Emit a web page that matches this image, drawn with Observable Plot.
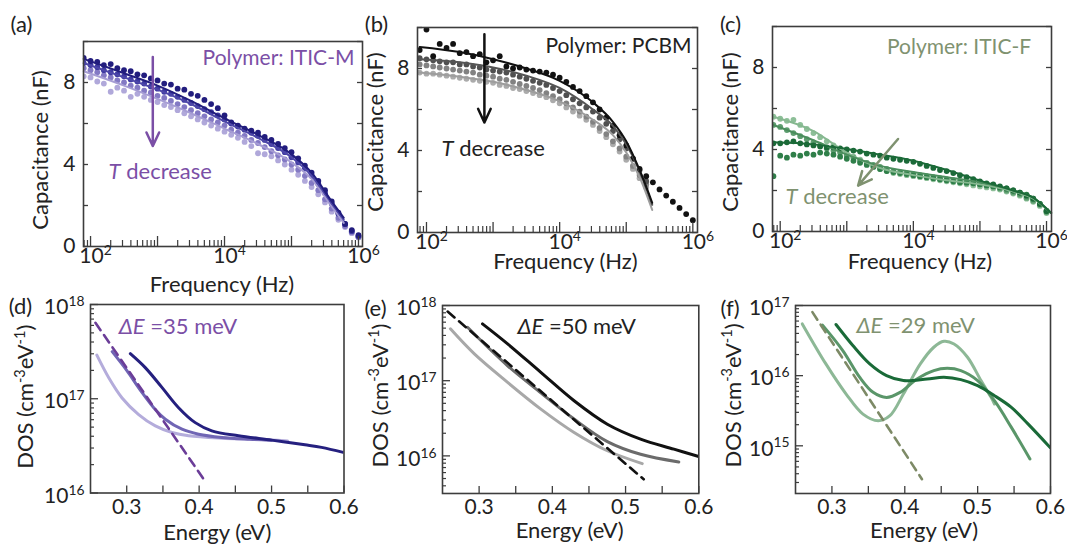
<!DOCTYPE html>
<html><head><meta charset="utf-8">
<script src="https://cdn.jsdelivr.net/npm/d3@7"></script>
<script src="https://cdn.jsdelivr.net/npm/@observablehq/plot@0.6"></script>
<style>
html,body{margin:0;padding:0;background:#fff;}
#fig{position:relative;width:1067px;height:547px;overflow:hidden;background:#fff;}
#fig svg{position:absolute;}
</style></head><body><div id="fig"></div>
<script>
// ---------------- data ----------------
const freq = [79, 100, 126, 158, 200, 251, 316, 398, 501, 631, 794, 1000, 1259, 1585, 1995, 2512, 3162, 3981, 5012, 6310, 7943, 10000, 12589, 15849, 19953, 25119, 31623, 39811, 50119, 63096, 79433, 100000, 125893, 158489, 199526, 251189, 316228, 398107, 501187, 630957, 794328, 1000000];

// (a) Polymer:ITIC-M capacitance (nF)
const aS1 = [9.2, 9.05, 9.0, 8.85, 8.9, 8.7, 8.6, 8.55, 8.4, 8.35, 8.2, 8.1, 7.95, 7.9, 7.7, 7.65, 7.45, 7.35, 7.15, 6.95, 6.75, 6.4, 6.05, 5.9, 5.75, 5.65, 5.55, 5.35, 5.2, 5.0, 4.8, 4.6, 4.3, 3.95, 3.6, 3.2, 2.75, 2.2, 1.65, 1.1, 0.8, 0.55];
const aS2 = [8.95, 8.85, 8.75, 8.6, 8.5, 8.4, 8.3, 8.15, 8.05, 7.95, 7.8, 7.7, 7.55, 7.45, 7.3, 7.15, 7.0, 6.85, 6.7, 6.55, 6.4, 6.2, 6.0, 5.85, 5.7, 5.55, 5.4, 5.2, 5.0, 4.8, 4.6, 4.35, 4.1, 3.8, 3.45, 3.05, 2.6, 2.1, 1.6, 1.1, 0.75, 0.5];
const aS3 = [8.7, 8.6, 8.5, 8.35, 8.25, 8.1, 8.0, 7.85, 7.75, 7.6, 7.5, 7.35, 7.25, 7.1, 6.95, 6.8, 6.65, 6.5, 6.35, 6.2, 6.05, 5.9, 5.7, 5.55, 5.4, 5.2, 5.05, 4.85, 4.65, 4.45, 4.25, 4.0, 3.75, 3.45, 3.1, 2.75, 2.3, 1.85, 1.4, 1.0, 0.7, 0.45];
const aS4 = [8.3, 8.25, 8.05, 7.95, 7.55, 7.75, 7.6, 7.3, 7.45, 7.3, 7.15, 7.05, 6.9, 6.8, 6.65, 6.5, 6.35, 6.2, 6.05, 5.9, 5.75, 5.6, 5.45, 5.3, 5.1, 4.9, 4.55, 4.5, 4.4, 4.2, 4.0, 3.75, 3.5, 3.2, 2.9, 2.55, 2.15, 1.7, 1.3, 0.95, 0.65, 0.45];
const aFitF = [79, 316, 1000, 3162, 10000, 31623, 100000, 199526, 398107, 602560];
const aFitDark = [9.15, 8.45, 7.85, 7.1, 6.25, 5.45, 4.5, 3.6, 2.2, 1.4];
const aFitMid = [8.95, 8.25, 7.65, 6.95, 6.1, 5.3, 4.35, 3.45, 2.1, 1.3];
const aFitLight = [8.55, 7.85, 7.2, 6.5, 5.75, 5.0, 4.1, 3.3, 1.95, 1.15];

// (b) Polymer:PCBM
const bS1 = [8.9, 9.9, 8.6, 9.2, 9.0, 9.2, 8.75, 8.8, 8.6, 8.7, 8.3, 8.4, 8.6, 8.1, 8.0, 8.05, 7.95, 7.9, 7.85, 7.8, 7.7, 7.55, 7.35, 7.1, 6.9, 6.65, 6.35, 6.0, 5.6, 5.2, 4.75, 4.25, 3.6, 3.1, 2.75, 2.45, 2.1, 1.8, 1.5, 1.2, 0.9, 0.6];
const bS2 = [8.5, 8.45, 8.4, 8.35, 8.3, 8.3, 8.2, 8.2, 8.1, 8.05, 7.95, 7.9, 7.85, 7.8, 7.7, 7.6, 7.5, 7.4, 7.3, 7.2, 7.05, 6.9, 6.7, 6.5, 6.3, 6.1, 5.9, 5.6, 5.3, 4.95, 4.55, 4.1, 3.6, 3.05, 2.5];
const bS3 = [8.2, 8.15, 8.1, 8.05, 8.0, 7.95, 7.9, 7.85, 7.8, 7.7, 7.65, 7.6, 7.5, 7.45, 7.35, 7.25, 7.15, 7.05, 6.95, 6.8, 6.65, 6.5, 6.3, 6.1, 5.9, 5.65, 5.4, 5.1, 4.8, 4.45, 4.1, 3.7, 3.25, 2.8, 2.35];
const bS4 = [7.8, 7.75, 7.75, 7.7, 7.65, 7.6, 7.55, 7.5, 7.45, 7.4, 7.35, 7.3, 7.2, 7.15, 7.05, 7.0, 6.9, 6.8, 6.7, 6.6, 6.45, 6.3, 6.1, 5.9, 5.7, 5.5, 5.25, 4.95, 4.65, 4.3, 3.95, 3.55, 3.1, 2.65, 2.2];
const bFitF = [79, 316, 1000, 3162, 10000, 31623, 63096, 100000, 158489, 245471];
const bFitDark = [9.05, 8.8, 8.45, 8.0, 7.4, 6.35, 5.4, 4.45, 3.05, 1.45];
const bFitMid = [8.45, 8.3, 8.05, 7.65, 7.05, 6.0, 5.2, 4.3, 3.0, 1.35];
const bFitLight = [7.8, 7.6, 7.35, 6.95, 6.4, 5.5, 4.75, 3.9, 2.7, 1.1];

// (c) Polymer:ITIC-F
const cS1 = [4.3, 4.3, 4.35, 4.4, 4.3, 4.25, 4.2, 4.15, 4.1, 4.1, 4.05, 4.0, 3.95, 3.9, 3.8, 3.75, 3.7, 3.6, 3.55, 3.5, 3.45, 3.4, 3.3, 3.2, 3.1, 3.0, 2.95, 2.85, 2.75, 2.65, 2.55, 2.45, 2.35, 2.3, 2.2, 2.1, 2.0, 1.9, 1.75, 1.6, 1.35, 1.0];
const cS2 = [2.7, 3.7, 3.6, 3.75, 3.7, 3.8, 3.75, 3.85, 3.8, 3.75, 3.65, 3.55, 3.45, 3.35, 3.25, 3.15, 3.05, 2.95, 2.9, 2.85, 2.8, 2.75, 2.7, 2.65, 2.6, 2.55, 2.5, 2.45, 2.4, 2.38, 2.35, 2.3, 2.25, 2.2, 2.15, 2.1, 2.0, 1.9, 1.8, 1.6, 1.35, 1.0];
const cS3 = [5.2, 5.1, 4.95, 4.8, 4.65, 4.5, 4.35, 4.2, 4.05, 3.95, 3.85, 3.7, 3.6, 3.45, 3.35, 3.25, 3.15, 3.05, 2.95, 2.9, 2.85, 2.8, 2.75, 2.7, 2.65, 2.6, 2.55, 2.5, 2.45, 2.4, 2.35, 2.3, 2.25, 2.2, 2.1, 2.0, 1.9, 1.8, 1.65, 1.5, 1.3, 0.95];
const cS4 = [5.6, 5.5, 5.4, 5.45, 5.2, 5.0, 4.8, 4.6, 4.4, 4.2, 4.0, 3.8, 3.65, 3.5, 3.35, 3.2, 3.05, 2.95, 2.85, 2.8, 2.75, 2.7, 2.65, 2.6, 2.55, 2.5, 2.45, 2.4, 2.35, 2.3, 2.25, 2.2, 2.15, 2.1, 2.05, 1.95, 1.85, 1.75, 1.6, 1.45, 1.25, 0.9];
const cFitF = [79, 316, 1000, 3162, 10000, 31623, 100000, 316228, 630957, 1174898];
const cFitDark = [4.35, 4.25, 4.02, 3.75, 3.45, 3.0, 2.48, 2.0, 1.65, 0.9];
const cFitMid = [5.2, 4.45, 3.75, 3.2, 2.9, 2.65, 2.4, 2.0, 1.65, 0.9];
const cFitLight = [5.6, 4.9, 3.85, 3.1, 2.75, 2.5, 2.3, 1.95, 1.6, 0.9];

// (d) DOS, ITIC-M (energy eV, DOS cm^-3 eV^-1)
const dE1 = [0.305, 0.3256, 0.3486, 0.3716, 0.3946, 0.4175, 0.4543, 0.5002, 0.5461, 0.569, 0.5989];
const dD1 = [3.01e17, 2.14e17, 1.32e17, 8.04e16, 5.58e16, 4.57e16, 4.05e16, 3.64e16, 3.25e16, 3.05e16, 2.7e16];
const dE2 = [0.28, 0.30, 0.32, 0.34, 0.3533, 0.3763, 0.3993, 0.4314, 0.47, 0.50];
const dD2 = [3.16e17, 2.0e17, 1.2e17, 7.6e16, 6.07e16, 4.75e16, 4.21e16, 3.89e16, 3.72e16, 3.63e16];
const dE3 = [0.2588, 0.2752, 0.2936, 0.3165, 0.3395, 0.3625, 0.3855, 0.4314, 0.4773, 0.5223];
const dD3 = [2.9e17, 1.67e17, 1.02e17, 6.8e16, 5.15e16, 4.39e16, 4.05e16, 3.82e16, 3.72e16, 3.57e16];
const dEfit = [0.2568, 0.4061];
const dDfit = [6.4e17, 1.41e16];

// (e) DOS, PCBM
const eE1 = [0.3046, 0.3389, 0.3843, 0.4297, 0.4751, 0.5205, 0.566, 0.6];
const eD1 = [5.7e17, 3.09e17, 1.29e17, 5.41e16, 2.64e16, 1.67e16, 1.23e16, 9.8e15];
const eE2 = [0.2842, 0.3389, 0.3843, 0.4297, 0.4751, 0.5205, 0.5727];
const eD2 = [5.13e17, 1.58e17, 6.9e16, 3.09e16, 1.55e16, 1.05e16, 8.3e15];
const eE3 = [0.2608, 0.2935, 0.3389, 0.3843, 0.4297, 0.4751, 0.5228];
const eD3 = [4.89e17, 2.27e17, 9.5e16, 4.19e16, 2.05e16, 1.17e16, 7.9e15];
const eEfit = [0.257, 0.5248];
const eDfit = [8.3e17, 4.89e15];

// (f) DOS, ITIC-F
const fE1 = [0.3056, 0.3287, 0.3519, 0.375, 0.3981, 0.4306, 0.4537, 0.4769, 0.5, 0.5231, 0.5463, 0.5694, 0.5995];
const fD1 = [5.36e16, 2.69e16, 1.47e16, 1.0e16, 8.5e15, 8.95e15, 9.46e15, 8.77e15, 7.19e15, 5.18e15, 3.53e15, 2.04e15, 9.46e14];
const fE2 = [0.2871, 0.3149, 0.338, 0.3565, 0.375, 0.3935, 0.4167, 0.4398, 0.4583, 0.4769, 0.5, 0.5231, 0.5463, 0.5718];
const fD2 = [5.25e16, 2.28e16, 9.5e15, 5.78e15, 4.9e15, 5.78e15, 8.95e15, 1.18e16, 1.27e16, 1.18e16, 8.5e15, 4.4e15, 1.83e15, 6.5e14];
const fE3 = [0.2593, 0.2917, 0.3195, 0.3426, 0.3634, 0.3796, 0.3981, 0.4213, 0.4398, 0.4537, 0.4676, 0.4861, 0.5046, 0.5185, 0.5231];
const fD3 = [5.47e16, 1.47e16, 5.47e15, 2.83e15, 2.28e15, 2.69e15, 5.47e15, 1.47e16, 2.54e16, 3.09e16, 2.83e16, 1.83e16, 8.5e15, 4.9e15, 3.94e15];
const fEfit = [0.2732, 0.4236];
const fDfit = [8.04e16, 3.34e14];

// ticks & labels
const freqTickLabels = [1e2, 1e4, 1e6];
const capTicks = [0, 2, 4, 6, 8, 10];
const capTickLabels = [0, 4, 8];
const energyTicks = [0.3, 0.35, 0.4, 0.45, 0.5, 0.55, 0.6];
const energyTickLabels = [0.3, 0.4, 0.5, 0.6];
const dosLabelsD = [1e16, 1e17, 1e18];
const dosLabelsE = [1e16, 1e17, 1e18];
const dosLabelsF = [1e15, 1e16, 1e17];

// annotations (data coordinates)
const arrowA = [{f1: 850, c1: 9.25, f2: 850, c2: 4.9}];
const arrowB = [{f1: 741, c1: 9.67, f2: 741, c2: 5.37}];
const arrowC = [{f1: 5888, c1: 4.51, f2: 1479, c2: 2.24}];

// ---------------- drawing ----------------
const FR = "#3d3d3d", TXT = "#222", PURPLE = "#7b4fa6", OLIVE = "#7f9270";
const FONT = "Lato, 'Open Sans', sans-serif";
const ML = 100, MR = 20, MT = 50, MB = 62;
const isDecade = v => Math.abs(Math.log10(v) - Math.round(Math.log10(v))) < 1e-6;
const C = {textAnchor: "middle", lineAnchor: "middle"};

function rich(svg) {
  d3.select(svg).selectAll("text").each(function () {
    const el = this;
    if (el.querySelector("tspan")) return;
    const s = el.textContent;
    if (!/[\^*]/.test(s)) return;
    el.textContent = "";
    let shifted = false;
    const re = /\^\{([^}]*)\}|\*([^*]*)\*|([^\^*]+)/g;
    let m;
    while ((m = re.exec(s))) {
      const t = document.createElementNS("http://www.w3.org/2000/svg", "tspan");
      if (m[1] !== undefined) {
        t.textContent = m[1];
        t.setAttribute("font-size", "0.66em");
        t.setAttribute("dy", "-0.58em");
        shifted = true;
      } else {
        t.textContent = m[2] !== undefined ? m[2] : m[3];
        if (m[2] !== undefined) t.setAttribute("font-style", "italic");
        if (shifted) { t.setAttribute("dy", "0.383em"); shifted = false; }
      }
      el.appendChild(t);
    }
  });
}

function place(box, scales, marksFn) {
  const w = box.r - box.l, h = box.b - box.t;
  const svg = Plot.plot({
    width: w + ML + MR, height: h + MT + MB,
    marginLeft: ML, marginRight: MR, marginTop: MT, marginBottom: MB,
    x: {...scales.x, axis: null}, y: {...scales.y, axis: null},
    style: {fontFamily: FONT, fontSize: "21px", background: "transparent", overflow: "visible", maxWidth: "none"},
    marks: marksFn(w, h)
  });
  svg.style.left = (box.l - ML) + "px";
  svg.style.top = (box.t - MT) + "px";
  rich(svg);
  document.getElementById("fig").appendChild(svg);
}

function capPanel(box, xDomain, dots, fits, extra, t) {
  place(box, {x: {type: "log", domain: xDomain}, y: {domain: [0, 10]}}, (w, h) => {
    const all = d3.scaleLog().domain(xDomain).ticks();
    const major = all.filter(isDecade), minor = all.filter(v => !isDecade(v));
    return [
      ...dots.map(s => Plot.dot(s.v, {x: (d, i) => freq[i], y: d => d, r: 2.9, fill: s.c, clip: true})),
      ...fits.map(s => Plot.line(s.v, {x: (d, i) => s.f[i], y: d => d, stroke: s.c, strokeWidth: 2, curve: "monotone-x"})),
      ...extra,
      Plot.tickX(minor, {x: d => d, insetTop: h - 6, stroke: FR, strokeWidth: 1.2}),
      Plot.tickX(major, {x: d => d, insetTop: h - 10, stroke: FR, strokeWidth: 1.3}),
      Plot.tickY(capTicks, {y: d => d, insetRight: w - 5, stroke: FR, strokeWidth: 1.3}),
      Plot.tickY(capTicks, {y: d => d, insetLeft: w - 5, stroke: FR, strokeWidth: 1.3}),
      Plot.frame({stroke: FR, strokeWidth: 1.6}),
      Plot.text(freqTickLabels, {...C, x: d => d, frameAnchor: "bottom", dy: 10, dx: 5, text: d => "10^{" + Math.round(Math.log10(d)) + "}", fontSize: 21, fill: TXT}),
      Plot.text(capTickLabels, {y: d => d, frameAnchor: "left", dx: -8, textAnchor: "end", lineAnchor: "middle", fontSize: 21, fill: TXT}),
      Plot.text(["Capacitance (nF)"], {...C, frameAnchor: "left", rotate: -90, dx: t.ydx, dy: t.ydy, fontSize: 22, fill: TXT}),
      Plot.text(["Frequency (Hz)"], {...C, frameAnchor: "bottom", dx: t.xdx, dy: t.xdy, fontSize: 22, fill: TXT}),
      Plot.text([t.label], {...C, frameAnchor: "top-left", dx: t.ldx, dy: t.ldy, fontSize: 22, fill: TXT})
    ];
  });
}

function dosPanel(box, yDomain, yLabels, curves, fit, extra, t) {
  place(box, {x: {domain: [0.25, 0.6]}, y: {type: "log", domain: yDomain}}, (w, h) => {
    const all = d3.scaleLog().domain(yDomain).ticks();
    const major = all.filter(isDecade), minor = all.filter(v => !isDecade(v));
    return [
      ...curves.map(s => Plot.line(s.d, {x: (d, i) => s.e[i], y: d => d, stroke: s.c, strokeWidth: 3, curve: "catmull-rom", clip: true})),
      Plot.line(fit.d, {x: (d, i) => fit.e[i], y: d => d, stroke: fit.c, strokeWidth: 2.6, strokeDasharray: "9,6"}),
      ...extra,
      Plot.tickY(minor, {y: d => d, insetRight: w - 4, stroke: FR, strokeWidth: 1.2}),
      Plot.tickY(major, {y: d => d, insetRight: w - 8, stroke: FR, strokeWidth: 1.3}),
      Plot.tickX(energyTicks, {x: d => d, insetTop: h - 7, stroke: FR, strokeWidth: 1.3}),
      Plot.frame({stroke: FR, strokeWidth: 1.6}),
      Plot.text(energyTickLabels, {...C, x: d => d, frameAnchor: "bottom", dy: 14, text: d => d3.format(".1f")(d), fontSize: 21, fill: TXT}),
      Plot.text(yLabels, {y: d => d, frameAnchor: "left", dx: -6, dy: 3, textAnchor: "end", lineAnchor: "middle", text: d => "10^{" + Math.round(Math.log10(d)) + "}", fontSize: 21, fill: TXT}),
      Plot.text(["DOS (cm^{-3}eV^{-1})"], {...C, frameAnchor: "left", rotate: -90, dx: t.ydx, dy: t.ydy, fontSize: 22, fill: TXT}),
      Plot.text(["Energy (eV)"], {...C, frameAnchor: "bottom", dx: t.xdx, dy: t.xdy, fontSize: 22, fill: TXT}),
      Plot.text([t.label], {...C, frameAnchor: "top-left", dx: t.ldx, dy: t.ldy, fontSize: 22, fill: TXT})
    ];
  });
}

// (a)
capPanel({l: 83, t: 41, r: 362, b: 246}, [78.5, 1148000],
  [{v: aS4, c: "#b0a8da"}, {v: aS3, c: "#8379c4"}, {v: aS2, c: "#3f3aa2"}, {v: aS1, c: "#221d7e"}],
  [{v: aFitLight, f: aFitF, c: "#a69dd4"}, {v: aFitMid, f: aFitF, c: "#4d47a8"}, {v: aFitDark, f: aFitF, c: "#221d7e"}],
  [
    Plot.arrow(arrowA, {x1: "f1", y1: "c1", x2: "f2", y2: "c2", stroke: PURPLE, strokeWidth: 2.5, headLength: 9, headAngle: 50}),
    Plot.text(["Polymer: ITIC-M"], {x: 871000, y: 9.17, textAnchor: "end", fontSize: 21, fill: PURPLE}),
    Plot.text(["*T* decrease"], {x: 186, y: 3.65, textAnchor: "start", fontSize: 22, fill: PURPLE})
  ],
  {ydx: -43, ydy: 6, xdx: -1, xdy: 38, label: "(a)", ldx: -62, ldy: -17});

// (b)
capPanel({l: 417, t: 27, r: 697, b: 232}, [73.3, 1175000],
  [{v: bS4, c: "#ababab"}, {v: bS3, c: "#828282"}, {v: bS2, c: "#505050"}, {v: bS1, c: "#121212"}],
  [{v: bFitLight, f: bFitF, c: "#9d9d9d"}, {v: bFitMid, f: bFitF, c: "#555555"}, {v: bFitDark, f: bFitF, c: "#111111"}],
  [
    Plot.arrow(arrowB, {x1: "f1", y1: "c1", x2: "f2", y2: "c2", stroke: "#111", strokeWidth: 2.5, headLength: 9, headAngle: 50}),
    Plot.text(["Polymer: PCBM"], {x: 955000, y: 9.1, textAnchor: "end", fontSize: 21, fill: TXT}),
    Plot.text(["*T* decrease"], {x: 168, y: 4.07, textAnchor: "start", fontSize: 22, fill: TXT})
  ],
  {ydx: -42, ydy: 2, xdx: 8, xdy: 29, label: "(b)", ldx: -41, ldy: -3});

// (c)
capPanel({l: 772, t: 26, r: 1051, b: 231}, [76.6, 1188000],
  [{v: cS4, c: "#8dbf98"}, {v: cS3, c: "#5f9e70"}, {v: cS2, c: "#2f7f49"}, {v: cS1, c: "#1b6a38"}],
  [{v: cFitLight, f: cFitF, c: "#86b890"}, {v: cFitMid, f: cFitF, c: "#4b8e5d"}, {v: cFitDark, f: cFitF, c: "#1b6a38"}],
  [
    Plot.arrow(arrowC, {x1: "f1", y1: "c1", x2: "f2", y2: "c2", stroke: OLIVE, strokeWidth: 2.5, headLength: 9, headAngle: 50}),
    Plot.text(["Polymer: ITIC-F"], {x: 589000, y: 8.97, textAnchor: "end", fontSize: 21, fill: OLIVE}),
    Plot.text(["*T* decrease"], {x: 120, y: 1.67, textAnchor: "start", fontSize: 22, fill: OLIVE})
  ],
  {ydx: -42, ydy: 3, xdx: 8, xdy: 30, label: "(c)", ldx: -42, ldy: -2});

// (d)
dosPanel({l: 89.5, t: 304, r: 343, b: 492.5}, [1e16, 1e18], dosLabelsD,
  [{e: dE3, d: dD3, c: "#b4acdb"}, {e: dE2, d: dD2, c: "#7065b4"}, {e: dE1, d: dD1, c: "#25207f"}],
  {e: dEfit, d: dDfit, c: "#6b3d98"},
  [Plot.text(["*ΔE* =35 meV"], {x: 0.289, y: 5.75e17, textAnchor: "start", fontSize: 22, fill: PURPLE})],
  {ydx: -64.5, ydy: -2, xdx: 0, xdy: 40, label: "(d)", ldx: -70, ldy: 2});

// (e)
dosPanel({l: 441.7, t: 305, r: 698, b: 493}, [3.162e15, 1e18], dosLabelsE,
  [{e: eE3, d: eD3, c: "#a8a8a8"}, {e: eE2, d: eD2, c: "#6b6b6b"}, {e: eE1, d: eD1, c: "#111111"}],
  {e: eEfit, d: eDfit, c: "#111111"},
  [Plot.text(["*ΔE* =50 meV"], {x: 0.3524, y: 5.15e17, textAnchor: "start", fontSize: 22, fill: TXT})],
  {ydx: -62, ydy: -4, xdx: -1, xdy: 37, label: "(e)", ldx: -67, ldy: 3});

// (f)
dosPanel({l: 795, t: 305, r: 1050, b: 493}, [2.09e14, 1e17], dosLabelsF,
  [{e: fE3, d: fD3, c: "#8db896"}, {e: fE2, d: fD2, c: "#5a9669"}, {e: fE1, d: fD1, c: "#1a6a38"}],
  {e: fEfit, d: fDfit, c: "#7d8a66"},
  [Plot.text(["*ΔE* =29 meV"], {x: 0.3337, y: 5.08e16, textAnchor: "start", fontSize: 22, fill: OLIVE})],
  {ydx: -62, ydy: -4, xdx: 1, xdy: 37, label: "(f)", ldx: -65.5, ldy: 3});
</script></body></html>
